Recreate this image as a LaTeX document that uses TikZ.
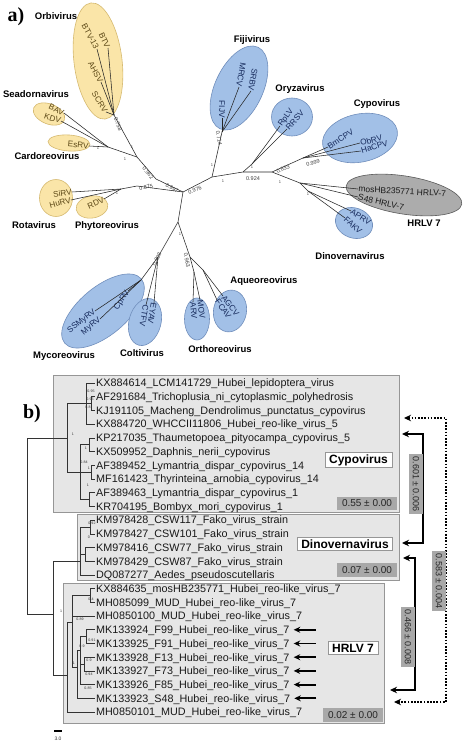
\documentclass[tikz,border=0pt]{standalone}
\usepackage{fontspec}
\setmainfont{Liberation Sans}
\newfontfamily\serifbf{Liberation Serif}
\usetikzlibrary{shapes.geometric,arrows.meta,calc}
\definecolor{yfill}{RGB}{250,229,168}
\definecolor{ybord}{RGB}{214,186,112}
\definecolor{bfill}{RGB}{162,192,231}
\definecolor{bbord}{RGB}{112,142,188}
\definecolor{gfill}{RGB}{172,172,172}
\definecolor{gbord}{RGB}{90,90,90}
\definecolor{ytext}{RGB}{92,72,22}
\definecolor{btext}{RGB}{22,42,92}
\definecolor{pfill}{RGB}{230,230,230}
\definecolor{pbord}{RGB}{150,150,150}
\definecolor{vfill}{RGB}{168,168,168}
\tikzset{
  ovY/.style={ellipse,draw=ybord,fill=yfill,line width=0.6pt,inner sep=0pt},
  ovB/.style={ellipse,draw=bbord,fill=bfill,line width=0.6pt,inner sep=0pt},
  ovG/.style={ellipse,draw=gbord,fill=gfill,line width=0.6pt,inner sep=0pt},
  grp/.style={font=\fontsize{9.5}{11}\selectfont\bfseries,inner sep=0pt},
  lfY/.style={font=\fontsize{8.2}{9}\selectfont,text=ytext,inner sep=0.2pt},
  lfB/.style={font=\fontsize{8.2}{9}\selectfont,text=btext,inner sep=0.2pt},
  lfK/.style={font=\fontsize{8.5}{9}\selectfont,text=black!90,inner sep=0.2pt},
  tra/.style={line width=0.55pt,black!85},
  bsv/.style={font=\fontsize{5.5}{6}\selectfont,inner sep=0pt,text=black!75},
  one/.style={font=\fontsize{4}{5}\selectfont,inner sep=0pt,text=black!70},
  pbox/.style={draw=pbord,fill=pfill,line width=0.6pt,inner sep=0pt,anchor=north west},
  rowtxt/.style={anchor=west,font=\fontsize{10.8}{12}\selectfont,inner sep=0pt,text height=7.7pt,text depth=0pt,text=black!90},
  tb/.style={line width=0.6pt,black!80},
  tbl/.style={tb,shorten >=1.5pt},
  clab/.style={draw=pbord,fill=white,line width=0.6pt,font=\fontsize{12}{14}\selectfont\bfseries,inner xsep=4pt,inner ysep=2.2pt},
  vbox/.style={fill=vfill,font=\fontsize{10}{12}\selectfont,text=black!85,minimum width=60pt,minimum height=13.5pt,inner sep=1pt},
  sbox/.style={fill=vfill,font=\fontsize{9}{10}\selectfont,text=black!85,minimum width=60pt,minimum height=14pt,inner sep=0.5pt,rotate=-90},
  brs/.style={line width=2pt,{Stealth[length=7pt,width=6.5pt]}-{Stealth[length=7pt,width=6.5pt]}},
  brd/.style={line width=2.3pt,dash pattern=on 1.7pt off 1.5pt,{Stealth[length=7pt,width=6.5pt]}-{Stealth[length=7pt,width=6.5pt]}},
  la/.style={line width=1.8pt,-{Stealth[length=6.5pt,width=6pt]}},
  tiny/.style={font=\fontsize{3.6}{4}\selectfont,inner sep=0pt,text=black!80},
}
\begin{document}
\begin{tikzpicture}[x=1pt,y=-1pt]
\useasboundingbox (0,0) rectangle (474,747);
\fill[white] (0,0) rectangle (474,747);
% ================= panel a =================
\node[font=\serifbf\bfseries\fontsize{20}{22}\selectfont,inner sep=0pt] (pa) at (16,17) {a)};
% ellipses
\node[ovY,minimum width=48pt,minimum height=117pt,rotate=7] (eOrbi) at (98,61) {};
\node[ovY,minimum width=33pt,minimum height=20pt,rotate=-22] (eSea) at (49,114) {};
\node[ovY,minimum width=42pt,minimum height=16pt,rotate=-4] (eCard) at (69,143) {};
\node[ovY,minimum width=33pt,minimum height=37pt] (eRota) at (56,198) {};
\node[ovY,minimum width=32pt,minimum height=22pt,rotate=10] (ePhyto) at (92,207) {};
\node[ovB,minimum width=100pt,minimum height=48pt,rotate=40] (eMyco) at (103,311) {};
\node[ovB,minimum width=32pt,minimum height=48pt,rotate=-15] (eColti) at (145,322) {};
\node[ovB,minimum width=25pt,minimum height=42pt] (eOrtho) at (197,319) {};
\node[ovB,minimum width=33pt,minimum height=42pt,rotate=-10] (eAqueo) at (230,311) {};
\node[ovB,minimum width=48pt,minimum height=90pt,rotate=-25] (eFiji) at (239,88) {};
\node[ovB,minimum width=41pt,minimum height=38pt] (eOryza) at (292,117) {};
\node[ovB,minimum width=76pt,minimum height=48pt,rotate=12] (eCypo) at (360,138) {};
\node[ovG,minimum width=117pt,minimum height=38pt,rotate=-9] (eHRLV) at (404,195) {};
\node[ovB,minimum width=38pt,minimum height=30pt,rotate=-20] (eDino) at (354,223) {};
% group labels
\node[grp] (gOrbi) at (56,16) {Orbivirus};
\node[grp] (gSea) at (36,94) {Seadornavirus};
\node[grp] (gCard) at (47,156) {Cardoreovirus};
\node[grp] (gRota) at (34,225) {Rotavirus};
\node[grp] (gPhyto) at (107,226) {Phytoreovirus};
\node[grp] (gMyco) at (64,356) {Mycoreovirus};
\node[grp] (gColti) at (142,353) {Coltivirus};
\node[grp] (gOrtho) at (220,349) {Orthoreovirus};
\node[grp] (gAqueo) at (264,281) {Aqueoreovirus};
\node[grp] (gFiji) at (252,40) {Fijivirus};
\node[grp] (gOryza) at (300,89) {Oryzavirus};
\node[grp] (gCypo) at (377,104) {Cypovirus};
\node[grp] (gHRLV) at (424,223) {HRLV 7};
\node[grp] (gDino) at (350,256) {Dinovernavirus};
% leaf labels
\node[lfY,rotate=-65,anchor=east] (tBTV) at (108,48) {BTV};
\node[lfY,rotate=-62,anchor=east] (tBTVt) at (97,49) {BTV-13};
\node[lfY,rotate=-62,anchor=east] (tAHSV) at (101,82) {AHSV};
\node[lfY,rotate=-58,anchor=east] (tSCRV) at (106,112) {SCRV};
\node[lfY,rotate=-25,anchor=east] (tBAV) at (64,113) {BAV};
\node[lfY,rotate=-18,anchor=east] (tKDV) at (61,121) {KDV};
\node[lfY,rotate=-5,anchor=east] (tEsRV) at (89,146) {EsRV};
\node[lfY,rotate=8,anchor=east] (tSiRV) at (72,192) {SiRV};
\node[lfY,rotate=15,anchor=east] (tHuRV) at (71,200) {HuRV};
\node[lfY,rotate=25,anchor=east] (tRDV) at (104,199) {RDV};
\node[lfB,rotate=38,anchor=east] (tSSMyRV) at (95,311) {SSMyRV};
\node[lfB,rotate=40,anchor=east] (tMyRV) at (100,319) {MyRV};
\node[lfB,rotate=58,anchor=east] (tCpRV) at (128,291) {CpRV};
\node[lfB,rotate=-100,anchor=west] (tEYAV) at (154,303) {EYAV};
\node[lfB,rotate=-100,anchor=west] (tCTFV) at (146,305) {CTFV};
\node[lfB,rotate=-82,anchor=west] (tMOV) at (200,300) {MOV};
\node[lfB,rotate=-85,anchor=west] (tARV) at (193,302) {ARV};
\node[lfB,rotate=-52,anchor=west] (tAGCV) at (223,296) {AGCV};
\node[lfB,rotate=-55,anchor=west] (tFCAV) at (217,300) {FCAV};
\node[lfB,rotate=-90,anchor=east] (tFIJV) at (222,118) {FIJV};
\node[lfB,rotate=-100,anchor=east] (tMRCV) at (239,87) {MRCV};
\node[lfB,rotate=-100,anchor=east] (tSRBV) at (251,91) {SRBV};
\node[lfB,rotate=54,anchor=west] (tRpLV) at (280,126) {RpLV};
\node[lfB,rotate=48,anchor=west] (tRRSV) at (287,129) {RRSV};
\node[lfB,rotate=33,anchor=west] (tBmCPV) at (328,147) {BmCPV};
\node[lfB,rotate=14,anchor=west] (tObRV) at (360,143) {ObRV};
\node[lfB,rotate=17,anchor=west] (tHaCPV) at (361,151) {HaCPV};
\node[lfK,rotate=-3,anchor=west] (tMos) at (358,189) {mosHB235771 HRLV-7};
\node[lfK,rotate=-13,anchor=west] (tS48) at (358,197) {S48 HRLV-7};
\node[lfB,rotate=-32,anchor=west] (tAPRV) at (351,211) {APRV};
\node[lfB,rotate=-42,anchor=west] (tFAKV) at (345,218) {FAKV};
% internal tree points
\coordinate (C) at (183,192);
\coordinate (D1) at (178,222);
\coordinate (M0) at (158,257);
\coordinate (Mn) at (141,280);
\coordinate (O0) at (190,257);
\coordinate (Or) at (194,272);
\coordinate (Aq) at (203,270);
\coordinate (L1) at (156,179);
\coordinate (L2) at (137,157);
\coordinate (Ob) at (114,115);
\coordinate (S1) at (108,147);
\coordinate (R1) at (137,186);
\coordinate (R2) at (121,189);
\coordinate (F1) at (212,177);
\coordinate (Fn) at (222,132);
\coordinate (F2) at (243,172);
\coordinate (Oz) at (252,164);
\coordinate (F3) at (272,172);
\coordinate (Cy) at (303,158);
\coordinate (H1) at (300,183);
\coordinate (Dn) at (308,191);
% branches
\draw[tra] (C) -- (D1) -- (M0) -- (Mn);
\draw[tra] (Mn) -- (tSSMyRV.east);
\draw[tra] (Mn) -- (tMyRV.east);
\draw[tra] (Mn) -- (tCpRV.east);
\draw[tra] (M0) -- (tEYAV.west);
\draw[tra] (M0) -- (tCTFV.west);
\draw[tra] (D1) -- (O0) -- (Or);
\draw[tra] (Or) -- (tMOV.west);
\draw[tra] (Or) -- (tARV.west);
\draw[tra] (O0) -- (Aq);
\draw[tra] (Aq) -- (tAGCV.west);
\draw[tra] (Aq) -- (tFCAV.west);
\draw[tra] (C) -- (L1) -- (L2) -- (Ob);
\draw[tra] (Ob) -- (tBTV.east);
\draw[tra] (Ob) -- (tBTVt.east);
\draw[tra] (Ob) -- (tAHSV.east);
\draw[tra] (Ob) -- (tSCRV.east);
\draw[tra] (L2) -- (S1);
\draw[tra] (S1) -- (tBAV.east);
\draw[tra] (S1) -- (tKDV.east);
\draw[tra] (S1) -- (tEsRV.east);
\draw[tra] (C) -- (R1) -- (R2);
\draw[tra] (R2) -- (tSiRV.east);
\draw[tra] (R2) -- (tHuRV.east);
\draw[tra] (R2) -- (tRDV.east);
\draw[tra] (C) -- (F1) -- (Fn);
\draw[tra] (Fn) -- (tFIJV.east);
\draw[tra] (Fn) -- (tMRCV.east);
\draw[tra] (Fn) -- (tSRBV.east);
\draw[tra] (F1) -- (F2) -- (Oz);
\draw[tra] (Oz) -- (tRpLV.west);
\draw[tra] (Oz) -- (tRRSV.west);
\draw[tra] (F2) -- (F3) -- (Cy) -- (tBmCPV.west);
\draw[tra] (Cy) -- (tObRV.west);
\draw[tra] (Cy) -- (tHaCPV.west);
\draw[tra] (F3) -- (H1);
\draw[tra] (H1) -- (tMos.west);
\draw[tra] (H1) -- (tS48.west);
\draw[tra] (H1) -- (Dn);
\draw[tra] (Dn) -- (tAPRV.west);
\draw[tra] (Dn) -- (tFAKV.west);
% support values
\node[bsv] (v1) at (253,179) {0.924};
\node[bsv,rotate=25] (v2) at (283,169) {0.833};
\node[bsv,rotate=14] (v3) at (313,163) {0.999};
\node[bsv,rotate=20] (v4) at (195,190) {0.976};
\node[bsv,rotate=-30] (v5) at (172,188) {0.997};
\node[bsv,rotate=10] (v6) at (146,187) {0.875};
\node[bsv,rotate=-50] (v7) at (148,173) {0.962};
\node[bsv,rotate=-70] (v8) at (118,124) {0.758};
\node[bsv,rotate=-80] (v9) at (219,138) {0.714};
\node[bsv,rotate=65] (v10) at (157,259) {0.808};
\node[bsv,rotate=-80] (v11) at (187,260) {0.963};
\node[one] (o1) at (212,165) {1};
\node[one] (o2) at (223,181) {1};
\node[one] (o3) at (252,167) {1};
\node[one] (o4) at (280,182) {1};
\node[one] (o5) at (308,194) {1};
\node[one] (o6) at (125,159) {1};
\node[one] (o7) at (132,147) {1};
\node[one] (o8) at (98,148) {1};
\node[one] (o9) at (117,193) {1};
\node[one] (o10) at (180,234) {1};
% ================= panel b =================
\node[font=\serifbf\bfseries\fontsize{20}{22}\selectfont,inner sep=0pt] (pb) at (32,414) {b)};
\node[pbox,minimum width=346pt,minimum height=137pt] (boxCy) at (53,375) {};
\node[pbox,minimum width=322pt,minimum height=66pt] (boxDi) at (77,514) {};
\node[pbox,minimum width=321pt,minimum height=140pt] (boxHR) at (63,583) {};
\foreach \t [count=\i] in {
 KX884614\_LCM141729\_Hubei\_lepidoptera\_virus,
 AF291684\_Trichoplusia\_ni\_cytoplasmic\_polyhedrosis,
 KJ191105\_Macheng\_Dendrolimus\_punctatus\_cypovirus,
 KX884720\_WHCCII11806\_Hubei\_reo-like\_virus\_5,
 KP217035\_Thaumetopoea\_pityocampa\_cypovirus\_5,
 KX509952\_Daphnis\_nerii\_cypovirus,
 AF389452\_Lymantria\_dispar\_cypovirus\_14,
 MF161423\_Thyrinteina\_arnobia\_cypovirus\_14,
 AF389463\_Lymantria\_dispar\_cypovirus\_1,
 KR704195\_Bombyx\_mori\_cypovirus\_1,
 KM978428\_CSW117\_Fako\_virus\_strain,
 KM978427\_CSW101\_Fako\_virus\_strain,
 KM978416\_CSW77\_Fako\_virus\_strain,
 KM978429\_CSW87\_Fako\_virus\_strain,
 DQ087277\_Aedes\_pseudoscutellaris,
 KX884635\_mosHB235771\_Hubei\_reo-like\_virus\_7,
 MH085099\_MUD\_Hubei\_reo-like\_virus\_7,
 MH0850100\_MUD\_Hubei\_reo-like\_virus\_7,
 MK133924\_F99\_Hubei\_reo-like\_virus\_7,
 MK133925\_F91\_Hubei\_reo-like\_virus\_7,
 MK133928\_F13\_Hubei\_reo-like\_virus\_7,
 MK133927\_F73\_Hubei\_reo-like\_virus\_7,
 MK133926\_F85\_Hubei\_reo-like\_virus\_7,
 MK133923\_S48\_Hubei\_reo-like\_virus\_7,
 MH0850101\_MUD\_Hubei\_reo-like\_virus\_7}
 {\node[rowtxt] (r\i) at (96,{383+(\i-1)*13.71}) {\t};}
% tree nodes
\coordinate (root) at (27,520);
\coordinate (cC) at (67,437.8);
\coordinate (cA) at (86,403);
\coordinate (cA2) at (91,403.5);
\coordinate (cB) at (80,472);
\coordinate (cB1) at (89,444.7);
\coordinate (cB2) at (91,472.1);
\coordinate (cB3) at (89,499.5);
\coordinate (E) at (53,614);
\coordinate (dB) at (80,561);
\coordinate (dA) at (90,527);
\coordinate (dC) at (85,554.4);
\coordinate (hA) at (67,675);
\coordinate (hB) at (72,622);
\coordinate (hC) at (90,595.5);
\coordinate (hD) at (77,667);
\coordinate (hE) at (80,650);
\coordinate (hF) at (86,636.7);
\coordinate (hG) at (84,664);
\draw[tb] (root) |- (cC);
\draw[tb] (root) |- (E);
\draw[tb] (cC) |- (cA);
\draw[tb] (cC) |- (cB);
\draw[tbl] (cA) |- (r1.west);
\draw[tb] (cA) |- (cA2);
\draw[tbl] (cA) |- (r4.west);
\draw[tbl] (cA2) |- (r2.west);
\draw[tbl] (cA2) |- (r3.west);
\draw[tb] (cB) |- (cB1);
\draw[tb] (cB) |- (cB2);
\draw[tb] (cB) |- (cB3);
\draw[tbl] (cB1) |- (r5.west);
\draw[tbl] (cB1) |- (r6.west);
\draw[tbl] (cB2) |- (r7.west);
\draw[tbl] (cB2) |- (r8.west);
\draw[tbl] (cB3) |- (r9.west);
\draw[tbl] (cB3) |- (r10.west);
\draw[tb] (E) |- (dB);
\draw[tb] (E) |- (hA);
\draw[tb] (dB) |- (dA);
\draw[tb] (dB) |- (dC);
\draw[tbl] (dB) |- (r15.west);
\draw[tbl] (dA) |- (r11.west);
\draw[tbl] (dA) |- (r12.west);
\draw[tbl] (dC) |- (r13.west);
\draw[tbl] (dC) |- (r14.west);
\draw[tb] (hA) |- (hB);
\draw[tbl] (hA) |- (r25.west);
\draw[tb] (hB) |- (hC);
\draw[tbl] (hB) |- (r18.west);
\draw[tb] (hB) |- (hD);
\draw[tbl] (hC) |- (r16.west);
\draw[tbl] (hC) |- (r17.west);
\draw[tb] (hD) |- (hE);
\draw[tbl] (hD) |- (r24.west);
\draw[tb] (hE) |- (hF);
\draw[tb] (hE) |- (hG);
\draw[tbl] (hE) |- (r23.west);
\draw[tbl] (hF) |- (r19.west);
\draw[tbl] (hF) |- (r20.west);
\draw[tbl] (hG) |- (r21.west);
\draw[tbl] (hG) |- (r22.west);
% tiny support values
\node[tiny] (s1) at (73,434) {1};
\node[tiny] (s2) at (91,391) {0.95};
\node[tiny] (s3) at (90,399) {0.95};
\node[tiny] (s4) at (88,407) {0.8};
\node[tiny] (s5) at (86,448) {1};
\node[tiny] (s6) at (84,462) {0.84};
\node[tiny] (s7) at (89,468) {1};
\node[tiny] (s8) at (88,485) {1};
\node[tiny] (s9) at (92,523) {0.92};
\node[tiny] (s10) at (89,537) {0};
\node[tiny] (s11) at (91,599) {0.4};
\node[tiny] (s12) at (61,611) {1};
\node[tiny] (s13) at (80,619) {0.89};
\node[tiny] (s14) at (92,640) {0.91};
\node[tiny] (s15) at (82,646) {0.9};
\node[tiny] (s16) at (89,660) {0.9};
\node[tiny] (s17) at (89,674) {0.94};
\node[tiny] (s18) at (88,688) {0.85};
\node[tiny] (s19) at (74,663) {1};
% clade labels and values
\node[clab] (lCy) at (358.5,460) {Cypovirus};
\node[clab] (lDi) at (345,544) {Dinovernavirus};
\node[clab] (lHR) at (353,648) {HRLV 7};
\node[vbox] (vCy) at (367,503.5) {0.55 ± 0.00};
\node[vbox] (vDi) at (367,570) {0.07 ± 0.00};
\node[vbox] (vHR) at (353,715) {0.02 ± 0.00};
% leaf arrows
\foreach \k in {19,...,24}
 {\draw[la] ([xshift=26pt]r\k.east) -- ([xshift=4pt]r\k.east);}
% brackets
\coordinate (d1a) at (404,418);
\coordinate (d1m) at (446,560);
\coordinate (d1b) at (394,702);
\coordinate (s1a) at (402,434);
\coordinate (s1m) at (423,488);
\coordinate (s1b) at (402,543);
\coordinate (s2a) at (403,558);
\coordinate (s2m) at (415,624);
\coordinate (s2b) at (390,690);
\draw[brd] (d1a) -| (d1m) |- (d1b);
\draw[brs] (s1a) -| (s1m) |- (s1b);
\draw[brs] (s2a) -| (s2m) |- (s2b);
\node[sbox] (bv1) at (416,484) {0.601 ± 0.006};
\node[sbox] (bv2) at (439,581) {0.583 ± 0.004};
\node[sbox] (bv3) at (408,637) {0.466 ± 0.008};
% scale bar
\coordinate (sb1) at (54,731);
\coordinate (sb2) at (62,731);
\draw[line width=1.1pt] (sb1) -- (sb2);
\node[tiny,font=\fontsize{5}{6}\selectfont] (sbl) at (58,739) {3.0};
\end{tikzpicture}
\end{document}
